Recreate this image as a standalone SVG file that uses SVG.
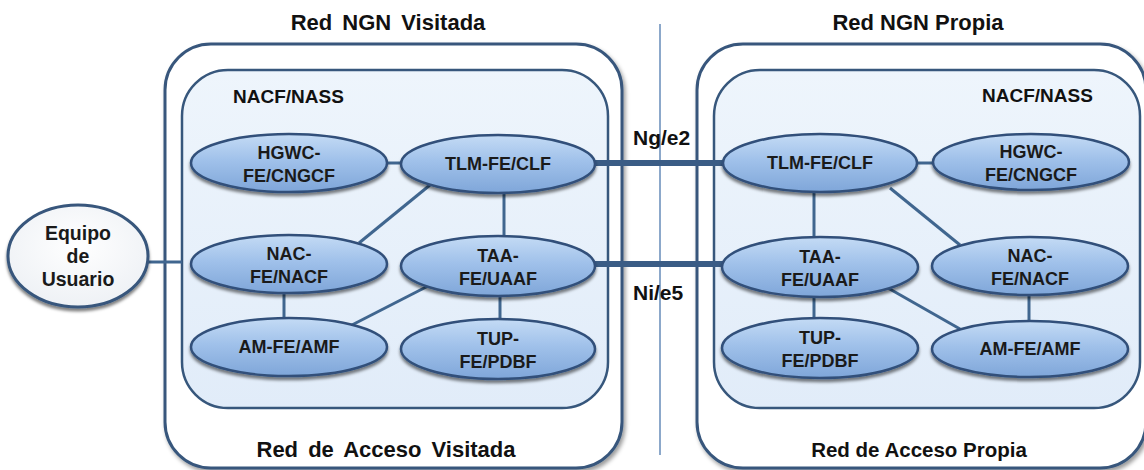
<svg xmlns="http://www.w3.org/2000/svg" width="1144" height="470" viewBox="0 0 1144 470">
<style>
.title{font-family:"Liberation Sans",Arial,sans-serif;font-weight:bold;font-size:22px;fill:#111;text-anchor:middle}
.ws{word-spacing:4px}
.sm{font-size:20.5px}
.lbl{font-family:"Liberation Sans",Arial,sans-serif;font-weight:bold;font-size:19px;fill:#111}
.if{font-size:21px}
.nt{font-family:"Liberation Sans",Arial,sans-serif;font-weight:bold;font-size:18px;fill:#1a1a1a;text-anchor:middle}
.eq{font-size:19.5px}
.outer{fill:#ffffff;stroke:#37577c;stroke-width:3;filter:url(#sh)}
.inner{fill:url(#ig);stroke:#37577c;stroke-width:2.5}
.ell{fill:url(#eg);stroke:#30507a;stroke-width:2.5;filter:url(#esh)}
.con{stroke:#40668f;stroke-width:3;fill:none}
.thick{stroke:#3a5c85;stroke-width:6;fill:none}
</style>
<defs>
<linearGradient id="eg" x1="0" y1="0" x2="0" y2="1">
<stop offset="0" stop-color="#c4dbf5"/>
<stop offset="0.45" stop-color="#a0c1ea"/>
<stop offset="1" stop-color="#7fa6d9"/>
</linearGradient>
<linearGradient id="ig" x1="0" y1="0" x2="0" y2="1">
<stop offset="0" stop-color="#eef5fc"/>
<stop offset="1" stop-color="#e1ecf9"/>
</linearGradient>
<radialGradient id="wg" cx="0.5" cy="0.4" r="0.6">
<stop offset="0" stop-color="#ffffff"/>
<stop offset="1" stop-color="#eef1f5"/>
</radialGradient>
<filter id="sh" x="-5%" y="-5%" width="112%" height="112%">
<feDropShadow dx="2" dy="3" stdDeviation="2" flood-color="#000" flood-opacity="0.4"/>
</filter>
<filter id="esh" x="-10%" y="-20%" width="120%" height="150%">
<feDropShadow dx="0" dy="3" stdDeviation="1.5" flood-color="#000" flood-opacity="0.5"/>
</filter>
</defs>

<line x1="660" y1="24" x2="660" y2="455" stroke="#8ca8ca" stroke-width="2"/>

<g id="red-visitada">
<rect class="outer" x="165" y="44" width="457" height="424" rx="46"/>
<text class="title ws" x="388" y="30">Red NGN Visitada</text>
<text class="title ws" x="386" y="457">Red de Acceso Visitada</text>
</g>
<g id="nass-visitada">
<rect class="inner" x="182" y="70" width="426" height="338" rx="46"/>
<text class="lbl" x="233" y="103">NACF/NASS</text>
</g>
<g id="red-propia">
<rect class="outer" x="697" y="44" width="449" height="424" rx="46"/>
<text class="title" x="918" y="30">Red NGN Propia</text>
<text class="title sm" x="919" y="457">Red de Acceso Propia</text>
</g>
<g id="nass-propia">
<rect class="inner" x="714" y="70" width="426" height="338" rx="46"/>
<text class="lbl" x="982" y="102">NACF/NASS</text>
</g>

<g id="connectors">
<line class="con" x1="148" y1="262" x2="182" y2="262"/>
<line class="con" x1="385" y1="163" x2="404" y2="163"/>
<line class="con" x1="504" y1="190" x2="504" y2="238"/>
<line class="con" x1="430" y1="185" x2="359" y2="243"/>
<line class="con" x1="284" y1="290" x2="284" y2="320"/>
<line class="con" x1="430" y1="285" x2="348" y2="327"/>
<line class="con" x1="500" y1="292" x2="500" y2="322"/>
<line class="con" x1="915" y1="163" x2="935" y2="163"/>
<line class="con" x1="814" y1="190" x2="814" y2="240"/>
<line class="con" x1="890" y1="188" x2="960" y2="245"/>
<line class="con" x1="1029" y1="292" x2="1029" y2="323"/>
<line class="con" x1="888" y1="288" x2="960" y2="329"/>
<line class="con" x1="814" y1="294" x2="814" y2="321"/>
<line class="thick" x1="592" y1="163" x2="726" y2="163"/>
<line class="thick" x1="592" y1="264" x2="725" y2="264"/>
<text class="lbl if" x="633" y="145">Ng/e2</text>
<text class="lbl if" x="633" y="300">Ni/e5</text>
</g>

<g id="equipo">
<ellipse cx="78" cy="256" rx="70" ry="51" fill="url(#wg)" stroke="#37577c" stroke-width="3" filter="url(#esh)"/>
<text class="nt eq" x="78" y="240">Equipo</text>
<text class="nt eq" x="78" y="263">de</text>
<text class="nt eq" x="78" y="286">Usuario</text>
</g>

<g id="hgwc-v">
<ellipse class="ell" cx="289" cy="163" rx="98" ry="29"/>
<text class="nt" x="289" y="159">HGWC-</text>
<text class="nt" x="289" y="182">FE/CNGCF</text>
</g>
<g id="tlm-v">
<ellipse class="ell" cx="498" cy="164" rx="97" ry="29"/>
<text class="nt" x="498" y="170">TLM-FE/CLF</text>
</g>
<g id="nac-v">
<ellipse class="ell" cx="289" cy="264" rx="98" ry="29"/>
<text class="nt" x="289" y="260">NAC-</text>
<text class="nt" x="289" y="283">FE/NACF</text>
</g>
<g id="taa-v">
<ellipse class="ell" cx="498" cy="266" rx="97" ry="30"/>
<text class="nt" x="498" y="262">TAA-</text>
<text class="nt" x="498" y="285">FE/UAAF</text>
</g>
<g id="am-v">
<ellipse class="ell" cx="289" cy="347" rx="98" ry="29"/>
<text class="nt" x="289" y="353">AM-FE/AMF</text>
</g>
<g id="tup-v">
<ellipse class="ell" cx="498" cy="349" rx="97" ry="30"/>
<text class="nt" x="498" y="345">TUP-</text>
<text class="nt" x="498" y="368">FE/PDBF</text>
</g>

<g id="tlm-p">
<ellipse class="ell" cx="820" cy="163" rx="97" ry="29"/>
<text class="nt" x="820" y="169">TLM-FE/CLF</text>
</g>
<g id="hgwc-p">
<ellipse class="ell" cx="1031" cy="162" rx="98" ry="28"/>
<text class="nt" x="1031" y="158">HGWC-</text>
<text class="nt" x="1031" y="181">FE/CNGCF</text>
</g>
<g id="taa-p">
<ellipse class="ell" cx="820" cy="267" rx="98" ry="30"/>
<text class="nt" x="820" y="263">TAA-</text>
<text class="nt" x="820" y="286">FE/UAAF</text>
</g>
<g id="nac-p">
<ellipse class="ell" cx="1030" cy="266" rx="98" ry="29"/>
<text class="nt" x="1030" y="262">NAC-</text>
<text class="nt" x="1030" y="285">FE/NACF</text>
</g>
<g id="tup-p">
<ellipse class="ell" cx="820" cy="348" rx="98" ry="30"/>
<text class="nt" x="820" y="344">TUP-</text>
<text class="nt" x="820" y="367">FE/PDBF</text>
</g>
<g id="am-p">
<ellipse class="ell" cx="1030" cy="349" rx="98" ry="28"/>
<text class="nt" x="1030" y="355">AM-FE/AMF</text>
</g>
</svg>
